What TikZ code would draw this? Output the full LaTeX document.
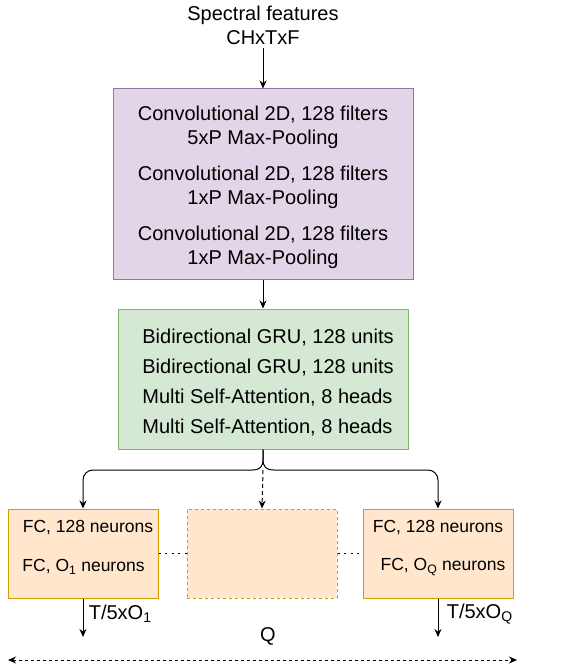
\documentclass[tikz,border=0pt]{standalone}
\usepackage{fontspec}
\setmainfont{Liberation Sans}
\usetikzlibrary{arrows.meta}

\definecolor{convfill}{HTML}{E1D5E7}
\definecolor{convline}{HTML}{9673A6}
\definecolor{rnnfill}{HTML}{D5E8D4}
\definecolor{rnnline}{HTML}{82B366}
\definecolor{fcfill}{HTML}{FFE6CC}
\definecolor{fcline}{HTML}{D79B00}

\begin{document}
\begin{tikzpicture}[x=1pt, y=-1pt,
    box/.style={draw, line width=1pt, inner sep=0pt},
    arr/.style={-{Stealth[length=8pt,width=7pt]}, line width=1pt},
    big/.style={font=\fontsize{20}{24}\selectfont},
    small/.style={font=\fontsize{17.5}{21}\selectfont}]
    \useasboundingbox (0,0) rectangle (569,668);

    % Entrada
    \node[big, align=center] (input) at (263,25) {Spectral features\\CHxTxF};

    % Bloque convolucional
    \node[box, draw=convline, fill=convfill, minimum width=300pt, minimum height=190pt] (conv) at (263,184) {};
    \node[big, align=center] (convtext) at (263,187)
        {Convolutional 2D, 128 filters\\5xP Max-Pooling\\[12pt]
         Convolutional 2D, 128 filters\\1xP Max-Pooling\\[12pt]
         Convolutional 2D, 128 filters\\1xP Max-Pooling};
    \draw[arr] (input) -- (conv);

    % Bloque recurrente
    \node[box, draw=rnnline, fill=rnnfill, minimum width=290pt, minimum height=140pt] (rnn) at (263,379) {};
    \node[font=\fontsize{20}{30}\selectfont, align=left] (rnntext) at (268,382.5)
        {Bidirectional GRU, 128 units\\Bidirectional GRU, 128 units\\
         Multi Self-Attention, 8 heads\\Multi Self-Attention, 8 heads};
    \draw[arr] (conv) -- (rnn);

    % Cabezas FC
    \node[box, draw=fcline, fill=fcfill, minimum width=150pt, minimum height=89pt] (fc1) at (83,553.5) {};
    \node[small] (fc1a) at (88,528) {FC, 128 neurons};
    \node[small] (fc1b) at (83.5,567) {FC, O\textsubscript{1} neurons};

    \node[box, draw=fcline, fill=fcfill, minimum width=150pt, minimum height=89pt,
          dash pattern=on 3pt off 3pt] (mid) at (262,553.5) {};

    \node[box, draw=fcline, fill=fcfill, minimum width=150pt, minimum height=89pt] (fcq) at (438,553.5) {};
    \node[small] (fcqa) at (438,528) {FC, 128 neurons};
    \node[small] (fcqb) at (443,567) {FC, O\textsubscript{Q} neurons};

    \draw[line width=1.2pt, dash pattern=on 2pt off 4.5pt] (fc1.east) -- (mid.west);
    \draw[line width=1.2pt, dash pattern=on 2pt off 4.5pt] (mid.east) -- (fcq.west);

    % Llave
    \coordinate (bar) at (263,470);
    \draw[arr] (rnn.south) -- (263,459) .. controls (263,467) and (260,470) .. (252,470)
        [rounded corners=10pt] -- (fc1.north |- bar) -- (fc1.north);
    \draw[arr] (rnn.south) -- (263,459) .. controls (263,467) and (266,470) .. (274,470)
        [rounded corners=10pt] -- (fcq.north |- bar) -- (fcq.north);
    \draw[arr, dash pattern=on 4pt off 3pt] (bar) -- (mid.north);

    % Salidas
    \coordinate (out1) at (83,637);
    \coordinate (outq) at (438,637);
    \draw[arr] (fc1) -- (out1) node[pos=0.4, right, big, xshift=2pt] (lab1) {T/5xO\textsubscript{1}};
    \draw[arr] (fcq) -- (outq) node[pos=0.4, right, big, xshift=5pt] (labq) {T/5xO\textsubscript{Q}};

    % Numero de tareas
    \node[big] (qlab) at (268,636) {Q};
    \coordinate (qleft) at (8,660);
    \coordinate (qright) at (517,660);
    \draw[{Stealth[length=8pt,width=7pt]}-{Stealth[length=8pt,width=7pt]}, line width=1pt,
          dash pattern=on 3pt off 3pt] (qleft) -- (qright);
\end{tikzpicture}
\end{document}
